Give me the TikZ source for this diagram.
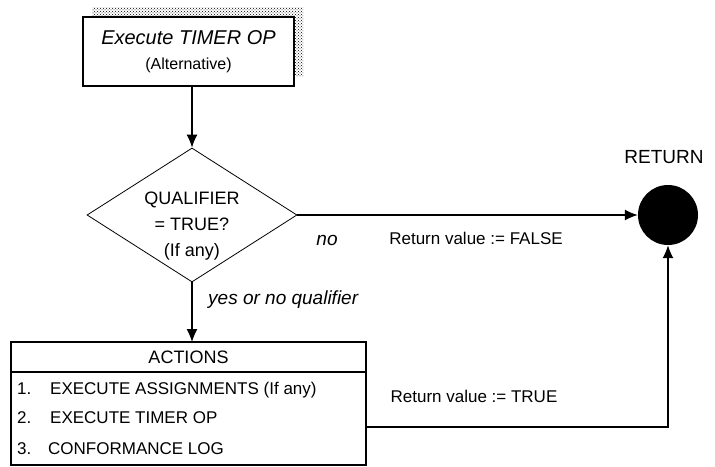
\documentclass[tikz,border=0pt]{standalone}
\usepackage{fontspec}
\setmainfont{Liberation Sans}
\usetikzlibrary{arrows.meta,shapes.geometric,shadows,patterns}

\tikzset{
    flow box/.style={
      draw=black,
      line width=1.2pt,
      fill=white,
      inner sep=0pt,
      outer sep=0pt
    },
    flow diamond/.style={
      diamond,
      draw=black,
      line width=0.8pt,
      aspect=1.57,
      inner sep=0pt,
      minimum width=210pt,
      minimum height=134pt
    },
    flow diamond text/.style={
      align=center,
      inner sep=0pt,
      font=\fontsize{18}{26}\selectfont
    },
    flow arrow/.style={
      line width=1.3pt,
      -{Latex[length=13pt,width=11pt]}
    },
    flow label/.style={
      font=\fontsize{17}{20}\selectfont,
      inner sep=0pt
    },
    flow note/.style={
      font=\fontsize{19}{22}\selectfont\itshape,
      inner sep=0pt
    },
    end dot/.style={
      circle,
      fill=black,
      minimum size=60pt,
      inner sep=0pt
    }
  }

\begin{document}
\begin{tikzpicture}[x=1pt,y=-1pt]
      \useasboundingbox[fill=white] (0,0) rectangle (715,466);

      % boxes
      \node[flow box, minimum width=211pt, minimum height=69pt, align=center,
            font=\fontsize{16}{25}\selectfont,
            general shadow={shadow xshift=9pt, shadow yshift=10pt,
                            pattern=crosshatch dots, pattern color=black}]
        (op) at (188.5,51.5) {{\fontsize{20}{25}\selectfont\itshape Execute TIMER OP}\\(Alternative)};
      \node[flow diamond,
            label={[flow diamond text, yshift=-11pt]center:QUALIFIER\\= TRUE?\\(If any)}]
        (qual) at (192,215) {};
      \node[flow box, minimum width=355pt, minimum height=30pt,
            font=\fontsize{18}{22}\selectfont] (acthead) at (188.5,357) {ACTIONS};
      \node[flow box, minimum width=355pt, minimum height=93pt, anchor=north]
        (actbody) at (acthead.south) {};
      \node[end dot] (ret) at (668,215) {};

      % list
      \node[flow label, anchor=base west] (item1) at (17,394) {\makebox[33pt][l]{1.}EXECUTE ASSIGNMENTS (If any)};
      \node[flow label, anchor=base west] (item2) at (17,423) {\makebox[33pt][l]{2.}EXECUTE TIMER OP};
      \node[flow label, anchor=base west] (item3) at (17,454) {\makebox[31pt][l]{3.}CONFORMANCE LOG};

      % arrows
      \draw[flow arrow] (op.south -| qual.north) -- (qual.north);
      \draw[flow arrow] (qual.south) -- (qual.south |- acthead.north);
      \draw[flow arrow] (qual.east) -- (ret.west);
      \draw[flow arrow] ([yshift=-8.5pt]actbody.east) -| (ret.south);

      % labels
      \node[flow label, font=\fontsize{19}{22}\selectfont] (rettxt) at (664,157) {RETURN};
      \node[flow note, anchor=west] (yeslbl) at (208,300) {yes or no qualifier};
      \node[flow note] (nolbl) at (327,240) {no};
      \node[flow label] (falselbl) at (476,238) {Return value := FALSE};
      \node[flow label] (truelbl) at (474,396) {Return value := TRUE};
    \end{tikzpicture}
\end{document}
